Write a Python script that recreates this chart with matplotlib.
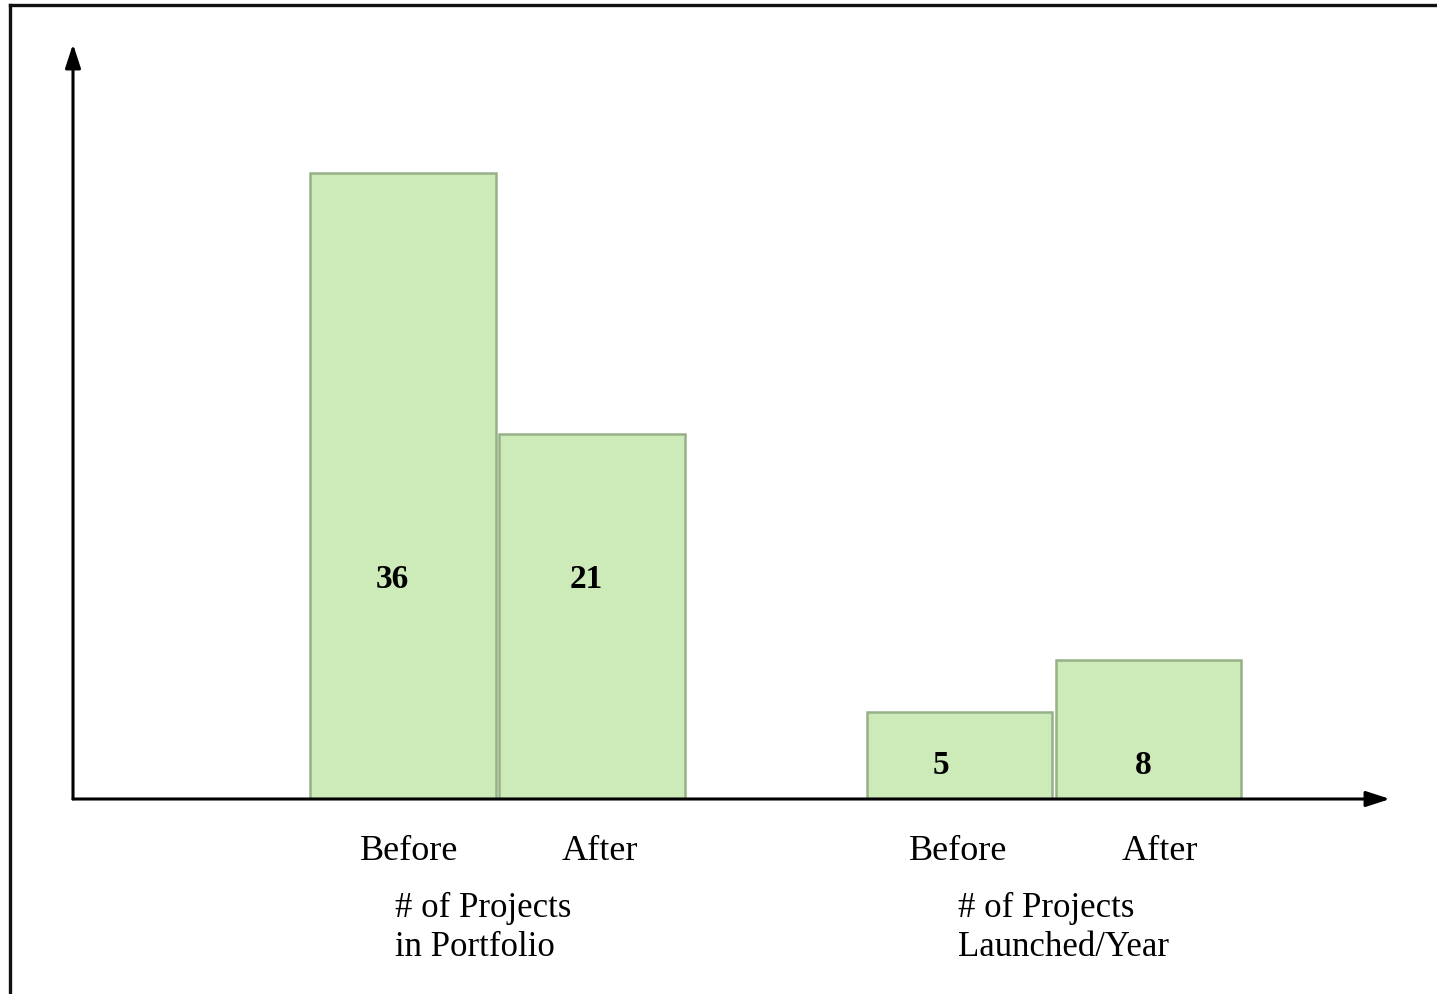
import matplotlib
matplotlib.use("Agg")
import matplotlib.pyplot as plt
from matplotlib.lines import Line2D

# Data
groups = ["# of Projects\nin Portfolio", "# of Projects\nLaunched/Year"]
phase_labels = ["Before", "After", "Before", "After"]
values = [36, 21, 5, 8]

# Layout
W, H, DPI = 1437, 994, 100
positions = [0.0, 1.0, 2.945, 3.945]
bar_width = 0.98
px_per_unit_x = 189.0
px_per_unit_y = 17.4
value_label_y = [(799 - 579) / px_per_unit_y] * 2 + [(799 - 766) / px_per_unit_y] * 2
value_label_dx = [-0.055, -0.03, -0.10, -0.03]
tick_dx = [0.03, 0.04, -0.01, 0.06]
group_label_x = [395, 958]          # figure pixels, left edge of text

fill_color = "#cdeab9"
edge_color = "#96b087"

plt.rcParams["font.family"] = ["Liberation Serif", "DejaVu Serif"]

fig = plt.figure(figsize=(W / DPI, H / DPI), dpi=DPI)
fig.patch.set_facecolor("white")

# axes placed so its origin sits at the arrow corner
ax_left_px, ax_right_px = 73, 1390
ax_bottom_px, ax_top_px = 799, 44
ax = fig.add_axes([ax_left_px / W, 1 - ax_bottom_px / H,
                   (ax_right_px - ax_left_px) / W,
                   (ax_bottom_px - ax_top_px) / H])
ax.set_xlim(-(403 - ax_left_px) / px_per_unit_x,
            (ax_right_px - 403) / px_per_unit_x)
ax.set_ylim(0, (ax_bottom_px - ax_top_px) / px_per_unit_y)
ax.patch.set_alpha(0)

ax.bar(positions, values, width=bar_width, color=fill_color,
       edgecolor=edge_color, linewidth=1.8, zorder=2)

for x, v, y, dx in zip(positions, values, value_label_y, value_label_dx):
    ax.text(x + dx, y, str(v), ha="center", va="center",
            fontsize=24, fontweight="bold", color="black", zorder=3)

for s in ax.spines.values():
    s.set_visible(False)
ax.set_yticks([])
ax.set_xticks([p + d for p, d in zip(positions, tick_dx)])
ax.set_xticklabels(phase_labels, fontsize=26)
ax.tick_params(axis="x", length=0, pad=26)

# axis arrows
arrow = dict(arrowstyle="-|>,head_length=0.8,head_width=0.26",
             lw=2.2, color="black", mutation_scale=18,
             shrinkA=0, shrinkB=0)
ax.annotate("", xy=(0, 1), xytext=(0, 0), xycoords="axes fraction",
            textcoords="axes fraction", arrowprops=arrow, zorder=4,
            annotation_clip=False)
ax.annotate("", xy=(1, 0), xytext=(0, 0), xycoords="axes fraction",
            textcoords="axes fraction", arrowprops=arrow, zorder=4,
            annotation_clip=False)

# group captions
for gx, g in zip(group_label_x, groups):
    fig.text(gx / W, 1 - 928 / H, g, ha="left", va="center",
             fontsize=25, linespacing=1.27)

# outer frame (top and left)
fig.add_artist(Line2D([10 / W, 1.0], [1 - 5 / H, 1 - 5 / H],
                      color="#111111", lw=2.4))
fig.add_artist(Line2D([10 / W, 10 / W], [0.0, 1 - 5 / H],
                      color="#111111", lw=2.4))

fig.savefig("out.png", dpi=DPI)
